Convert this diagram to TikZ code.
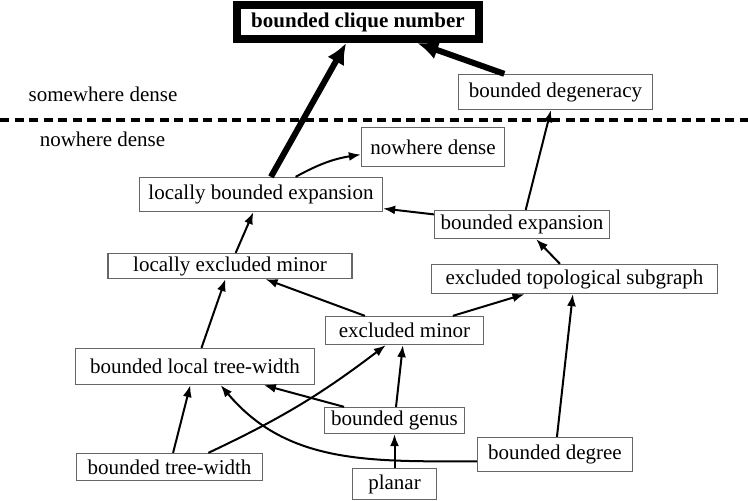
\documentclass[tikz,border=0pt]{standalone}
\usepackage{fontspec}
\setmainfont{Liberation Serif}
\usetikzlibrary{arrows.meta}

\begin{document}
\begin{tikzpicture}[
      x = 1pt, y = 1pt,
      >={Latex[length=12pt, width=9pt]},
      font = \fontsize{21}{25}\selectfont,
      prop/.style 2 args = {
        draw = black!60, line width = 1.3pt, fill = white,
        inner sep = 2pt,
        minimum width = #1pt, minimum height = #2pt
      },
      imp/.style = { ->, line width = 2pt },
      strong/.style = { -{Latex[length=21pt, width=19pt]}, line width = 6pt },
    ]
    \useasboundingbox (0,0) rectangle (748,501);

    \draw[line width = 4pt, dash pattern = on 9pt off 5.5pt] (0,381) -- (748,381);
    \node (SD) at (103,407) {somewhere dense};
    \node (NDL) at (102.5,362) {nowhere dense};

    \node[draw, line width = 8pt, inner sep = 2pt, minimum width = 242pt, minimum height = 34pt]
      (CL) at (358,479) {\bfseries bounded clique number};
    \node[prop = {194}{35}] (DG) at (555.5,409) {bounded degeneracy};
    \node[prop = {143}{39}] (ND) at (433,354) {nowhere dense};
    \node[prop = {243}{34}] (LBE) at (261,306.5) {locally bounded expansion};
    \node[prop = {175}{28}] (BE) at (522,276.5) {bounded expansion};
    \node[prop = {244}{25}] (LEM) at (230,235) {locally excluded minor};
    \node[prop = {286}{29}] (ETS) at (574.5,222) {excluded topological subgraph};
    \node[prop = {158}{28}] (EM) at (404.5,170.5) {excluded minor};
    \node[prop = {239}{36}] (BLTW) at (195,134.5) {bounded local tree-width};
    \node[prop = {140}{26}] (BG) at (394.5,80.5) {bounded genus};
    \node[prop = {155}{34}] (BD) at (555,46.5) {bounded degree};
    \node[prop = {186}{27}] (BTW) at (169.5,34) {bounded tree-width};
    \node[prop = {84}{31}] (PL) at (394.5,17) {planar};

    \draw[strong] (LBE) -- (CL);
    \draw[strong] (DG) -- (CL);
    \draw[imp] (LBE.27) to[bend left = 10] (ND.186);
    \draw[imp] (BE) -- (LBE);
    \draw[imp] (BE) -- (DG);
    \draw[imp] (ETS) -- (BE);
    \draw[imp] (LEM) -- (LBE);
    \draw[imp] (EM) -- (LEM);
    \draw[imp] (EM) -- (ETS);
    \draw[imp] (BLTW) -- (LEM);
    \draw[imp] (BTW) -- (BLTW);
    \draw[imp] (BTW.20) to[bend right = 6] (EM.218);
    \draw[imp] (BG) -- (BLTW);
    \draw[imp] (BG) -- (EM);
    \draw[imp] (PL) -- (BG);
    \draw[imp] (BD) -- (ETS);
    \draw[imp] (BD.185) to[out = 180, in = -50] (BLTW.324);
  \end{tikzpicture}
\end{document}
